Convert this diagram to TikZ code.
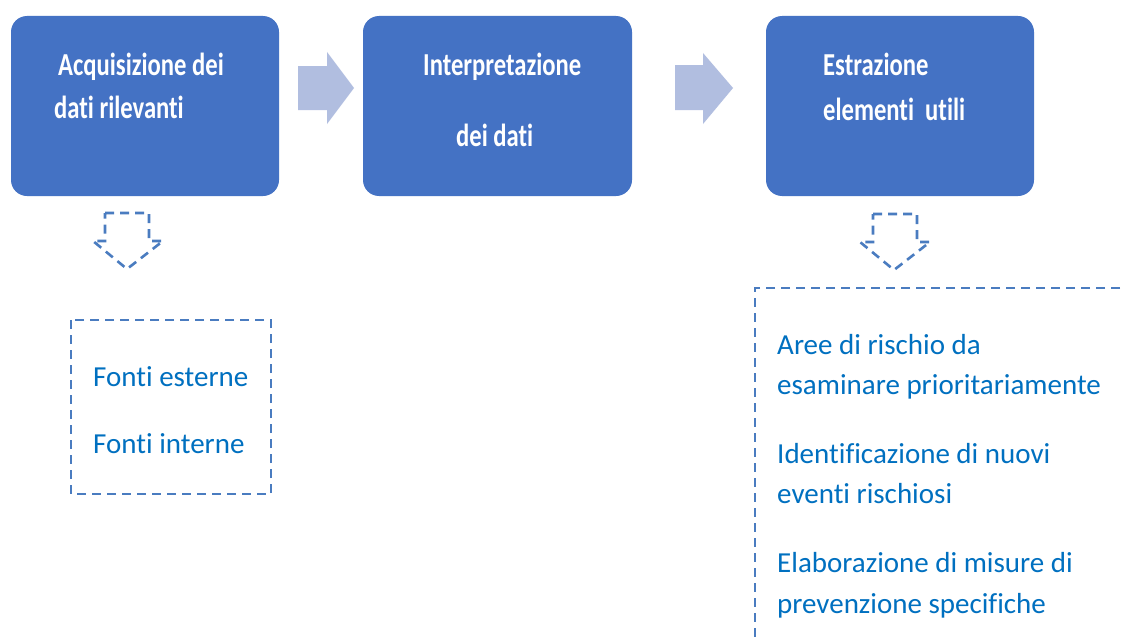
\documentclass[tikz,border=0pt]{standalone}
\usepackage{fontspec}
\setmainfont[Ligatures=NoCommon]{Carlito}
\newfontfamily\boxfont[FakeStretch=0.77,Ligatures=NoCommon]{Carlito}
\definecolor{boxblue}{RGB}{68,114,196}
\definecolor{txtblue}{RGB}{0,112,192}
\definecolor{arrowlight}{RGB}{177,190,224}
\definecolor{dashblue}{RGB}{74,124,192}
\tikzset{
  stepbox/.style={fill=boxblue, rounded corners=16pt},
  boxtext/.style={anchor=base west, inner sep=0pt, text=white,
    font=\boxfont\bfseries\fontsize{32}{38}\selectfont},
  itemtext/.style={anchor=base west, inner sep=0pt, text=txtblue,
    font=\fontsize{29}{34}\selectfont},
  flowarrow/.style={fill=arrowlight},
  dashline/.style={draw=dashblue, line width=2.6pt, dash pattern=on 9pt off 6pt},
}
\begin{document}
\begin{tikzpicture}[x=1pt,y=-1pt]
\clip (0,0) rectangle (1123,642);
\fill[white] (0,0) rectangle (1123,642);

% main boxes
\path[stepbox] (11,16) rectangle (279,196);
\path[stepbox] (363,16) rectangle (632,196);
\path[stepbox] (766,16) rectangle (1034,196);

\node[boxtext] (t1a) at (58,75) {Acquisizione dei};
\node[boxtext] (t1b) at (54,118) {dati rilevanti};
\node[boxtext] (t2a) at (423,75) {Interpretazione};
\node[boxtext] (t2b) at (456,146) {dei dati};
\node[boxtext] (t3a) at (823,75) {Estrazione};
\node[boxtext] (t3b) at (823,120) {elementi\ \ utili};

% block arrows between boxes
\fill[flowarrow] (298,66) -- (327,66) -- (327,52) -- (354,88) -- (327,124) -- (327,110) -- (298,110) -- cycle;
\fill[flowarrow] (675,65) -- (703,65) -- (703,53) -- (733,88) -- (703,124) -- (703,110) -- (675,110) -- cycle;

% dashed down arrows
\draw[dashline, line join=miter] (105,213) -- (149,213) -- (149,241) -- (163,241) -- (127,269) -- (93,241) -- (105,241) -- cycle;
\draw[dashline, line join=miter] (873,214) -- (917,214) -- (917,242) -- (930,242) -- (894,270) -- (860,242) -- (873,242) -- cycle;

% left dashed box
\draw[dashline] (71,320) rectangle (271,494);
\node[itemtext] (f1) at (93,386) {Fonti esterne};
\node[itemtext] (f2) at (93,453) {Fonti interne};

% right dashed box (open to the right and bottom)
\draw[dashline] (1135,288) -- (755,288) -- (755,655);
\node[itemtext] (e1) at (777,354) {Aree di rischio da};
\node[itemtext] (e2) at (777,394) {esaminare prioritariamente};
\node[itemtext] (e3) at (777,463) {Identificazione di nuovi};
\node[itemtext] (e4) at (777,503) {eventi rischiosi};
\node[itemtext] (e5) at (777,572) {Elaborazione di misure di};
\node[itemtext] (e6) at (777,613) {prevenzione specifiche};
\end{tikzpicture}
\end{document}
